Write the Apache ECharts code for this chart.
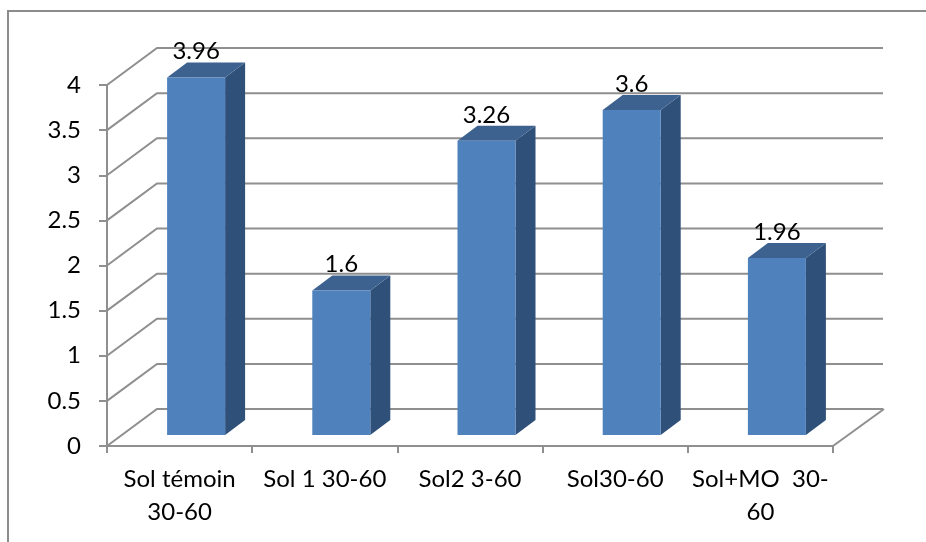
<!DOCTYPE html>
<html>
<head>
<meta charset="utf-8">
<style>html,body{margin:0;padding:0;background:#fff}#chart{width:926px;height:542px}</style>
<script src="https://cdn.jsdelivr.net/npm/echarts@6/dist/echarts.min.js"></script>
</head>
<body>
<div id="chart"></div>
<script>
const categories = ['Sol témoin\n30-60', 'Sol 1 30-60', 'Sol2 3-60', 'Sol30-60', 'Sol+MO  30-\n60'];
const values = [3.96, 1.6, 3.26, 3.6, 1.96];
const valueTicks = [0, 0.5, 1, 1.5, 2, 2.5, 3, 3.5, 4];

const FONT = 'Lato, "Noto Sans", sans-serif';
const FONT_SIZE = 24;
const LINE = '#8f8f8f';
// Oblique projection of the chart box: back wall offset and column depth, in pixels
const WALL_DX = 50, WALL_DY = -37;
const BAR_DX = 16.5, BAR_DY = -11, DEPTH_X = 20, DEPTH_Y = -15;
const BAR_WIDTH = 58;

const lineStyle = { stroke: LINE, lineWidth: 2, fill: null };

// Diagonal from the value axis to the back wall, then across the wall
function renderWallLine(params, api) {
  const cs = params.coordSys;
  const y = api.coord([0, api.value(0)])[1];
  const left = cs.x, right = cs.x + cs.width;
  const backY = y + WALL_DY;
  const children = [{
    type: 'polyline',
    shape: { points: [[left, y], [left + WALL_DX, backY], [right + WALL_DX, backY]] },
    style: lineStyle
  }];
  if (api.value(0) === 0) {
    children.push({
      type: 'line',
      shape: { x1: right, y1: y, x2: right + WALL_DX + 1, y2: backY },
      style: lineStyle
    });
  }
  return { type: 'group', children };
}

// Column with front, top and side faces plus its value label
function renderColumn(params, api) {
  const base = api.coord([api.value(0), 0]);
  const top = api.coord([api.value(0), api.value(1)]);
  const xL = base[0] + BAR_DX - BAR_WIDTH / 2;
  const xR = xL + BAR_WIDTH;
  const yB = base[1] + BAR_DY;
  const yT = top[1] + BAR_DY;
  return {
    type: 'group',
    children: [
      { type: 'polygon',
        shape: { points: [[xR, yT], [xR + DEPTH_X, yT + DEPTH_Y], [xR + DEPTH_X, yB + DEPTH_Y], [xR, yB]] },
        style: { fill: '#2f5179' } },
      { type: 'polygon',
        shape: { points: [[xL, yT], [xL + DEPTH_X, yT + DEPTH_Y], [xR + DEPTH_X, yT + DEPTH_Y], [xR, yT]] },
        style: { fill: '#3d6290' } },
      { type: 'rect',
        shape: { x: xL, y: yT, width: BAR_WIDTH, height: yB - yT },
        style: { fill: '#4f81bd' } },
      { type: 'text',
        style: {
          x: (xL + xR) / 2, y: yT - 26,
          text: String(api.value(1)),
          fill: '#000', font: FONT_SIZE + 'px ' + FONT,
          align: 'center', verticalAlign: 'middle'
        } }
    ]
  };
}

const chart = echarts.init(document.getElementById('chart'), null, { renderer: 'canvas' });
chart.setOption({
  animation: false,
  backgroundColor: '#fff',
  grid: { left: 107, top: 85, width: 726, height: 361, containLabel: false },
  graphic: [
    { type: 'polyline', silent: true, z: 0,
      shape: { points: [[8, 542], [8, 11], [926, 11]] },
      style: { stroke: '#8c8c8c', lineWidth: 2, fill: null } }
  ],
  xAxis: {
    type: 'category',
    data: categories,
    boundaryGap: true,
    axisLine: { show: true, lineStyle: { color: LINE, width: 2 } },
    axisTick: { show: true, alignWithLabel: false, length: 7, lineStyle: { color: LINE, width: 2 } },
    axisLabel: { color: '#000', fontFamily: FONT, fontSize: FONT_SIZE, lineHeight: 33, margin: 17, interval: 0 },
    splitLine: { show: false }
  },
  yAxis: {
    type: 'value',
    min: 0, max: 4, interval: 0.5,
    axisLine: { show: true, lineStyle: { color: LINE, width: 2 } },
    axisTick: { show: true, length: 8, lineStyle: { color: LINE, width: 2 } },
    axisLabel: { color: '#000', fontFamily: FONT, fontSize: FONT_SIZE, margin: 26, formatter: v => String(v) },
    splitLine: { show: false }
  },
  series: [
    { type: 'custom', silent: true, z: 1, renderItem: renderWallLine,
      data: valueTicks.map(v => [v]), encode: { y: 0 } },
    { type: 'custom', silent: true, z: 3, renderItem: renderColumn,
      data: values.map((v, i) => [i, v]), encode: { x: 0, y: 1 } }
  ]
});
</script>
</body>
</html>
